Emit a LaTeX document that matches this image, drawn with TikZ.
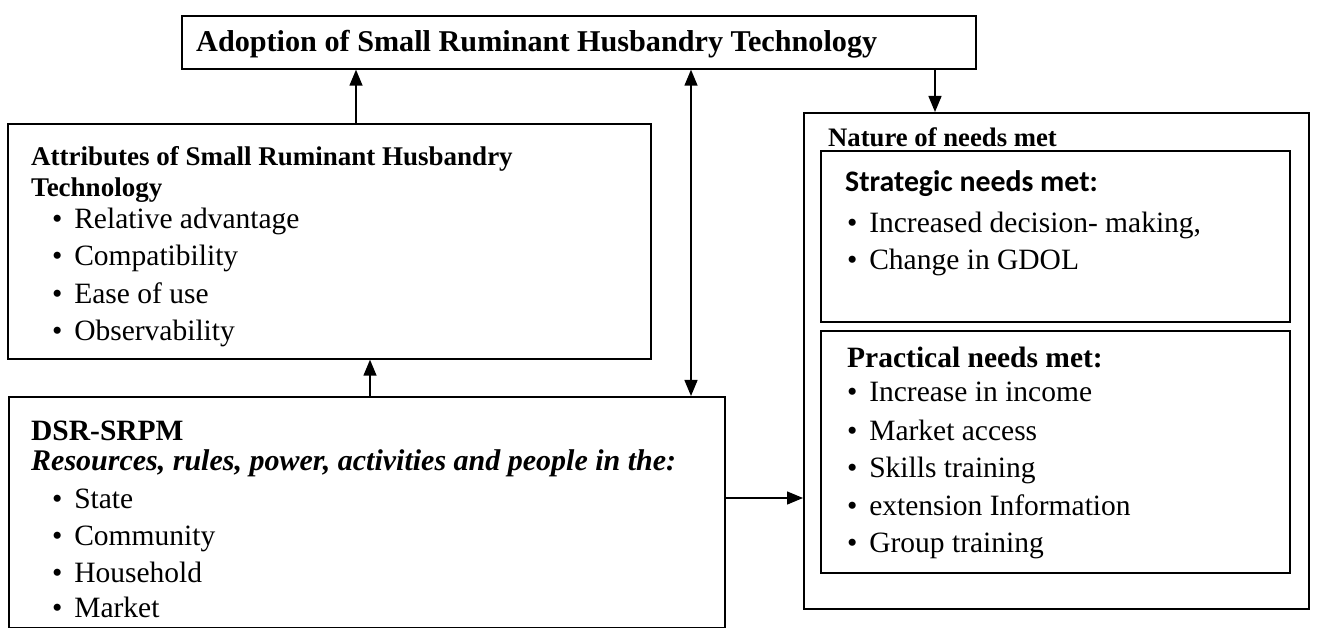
\documentclass[tikz,border=0pt]{standalone}
\usepackage{fontspec}
\setmainfont{Liberation Serif}
\newfontfamily\calib{Carlito}
\usetikzlibrary{arrows.meta}
\newcommand{\bl}[1]{\textbullet\hspace{0.4em}#1}
\begin{document}
\begin{tikzpicture}[x=1pt,y=-1pt,
  box/.style={draw, line width=1.7pt, inner sep=0pt, anchor=north west},
  arr/.style={line width=1.4pt, -{Triangle[length=16pt,width=13pt]}},
  darr/.style={line width=1.4pt, {Triangle[length=16pt,width=13pt]}-{Triangle[length=16pt,width=13pt]}},
  txt/.style={anchor=base west, inner sep=0pt, font=\fontsize{29.5}{30}\selectfont},
  ttl/.style={anchor=base west, inner sep=0pt, font=\fontsize{27}{28}\selectfont\bfseries},
  hdr/.style={anchor=base west, inner sep=0pt, font=\fontsize{29.5}{30}\selectfont\bfseries}
]
\useasboundingbox (0,0) rectangle (1318,628);

% boxes
\node[box, minimum width=794pt, minimum height=53pt] (top) at (181,15) {};
\node[box, minimum width=643pt, minimum height=235pt] (attr) at (7,123) {};
\node[box, minimum width=716pt, minimum height=231pt] (dsr) at (8,396) {};
\node[box, minimum width=505pt, minimum height=496pt] (outer) at (803,112) {};
\node[box, minimum width=469pt, minimum height=171pt] (strat) at (820,150) {};
\node[box, minimum width=469pt, minimum height=242pt] (prac) at (820,330) {};

% top text
\node[hdr, font=\fontsize{30.2}{30}\selectfont\bfseries] (ttop) at (196,52) {Adoption of Small Ruminant Husbandry Technology};

% attributes
\node[ttl] (a0) at (31,166) {Attributes of Small Ruminant Husbandry};
\node[ttl] (a1) at (31,197) {Technology};
\node[txt] (a2) at (52,229) {\bl{Relative advantage}};
\node[txt] (a3) at (52,266) {\bl{Compatibility}};
\node[txt] (a4) at (52,304) {\bl{Ease of use}};
\node[txt] (a5) at (52,341) {\bl{Observability}};

% DSR
\node[hdr] (d0) at (31,440) {DSR-SRPM};
\node[hdr, font=\fontsize{30}{30}\selectfont\bfseries\itshape] (d1) at (31,470) {Resources, rules, power, activities and people in the:};
\node[txt] (d2) at (52,508) {\bl{State}};
\node[txt] (d3) at (52,545) {\bl{Community}};
\node[txt] (d4) at (52,582) {\bl{Household}};
\node[txt] (d5) at (52,617) {\bl{Market}};

% right side
\node[ttl, font=\fontsize{26.7}{27}\selectfont\bfseries] (n0) at (828,147) {Nature of needs met};
\node[anchor=base west, inner sep=0pt, font=\calib\fontsize{29.8}{30}\selectfont\bfseries] (s0) at (845,192) {Strategic needs met:};
\node[txt] (s1) at (847,233) {\bl{Increased decision- making,}};
\node[txt] (s2) at (847,270) {\bl{Change in GDOL}};
\node[hdr] (p0) at (847,368) {Practical needs met:};
\node[txt] (p1) at (847,402) {\bl{Increase in income}};
\node[txt] (p2) at (847,440) {\bl{Market access}};
\node[txt] (p3) at (847,477) {\bl{Skills training}};
\node[txt] (p4) at (847,515) {\bl{extension Information}};
\node[txt] (p5) at (847,552) {\bl{Group training}};

% connectors
\coordinate (c1) at (356,0);
\coordinate (c2) at (370,0);
\coordinate (c3) at (691,0);
\coordinate (c4) at (935,0);
\coordinate (c5) at (0,498);
\draw[arr] (c1 |- attr.north) -- (c1 |- top.south);
\draw[arr] (c2 |- dsr.north) -- (c2 |- attr.south);
\draw[darr] (c3 |- top.south) -- (c3 |- dsr.north);
\draw[arr] (c4 |- top.south) -- (c4 |- outer.north);
\draw[arr] (dsr.east |- c5) -- (outer.west |- c5);
\end{tikzpicture}
\end{document}
